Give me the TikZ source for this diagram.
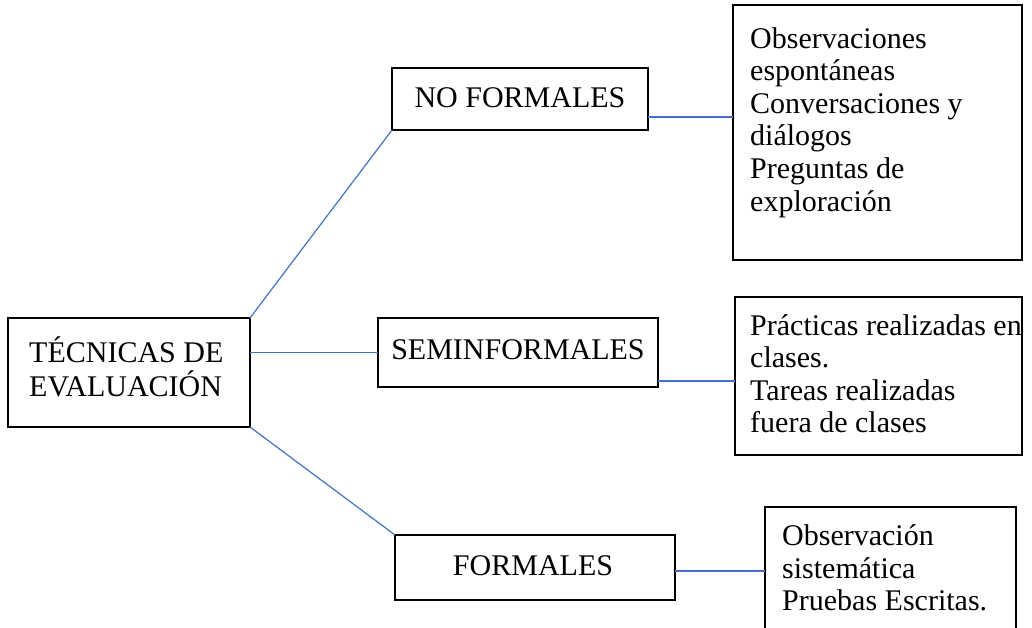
\documentclass[tikz,border=0pt]{standalone}
\usepackage{fontspec}
\setmainfont{Liberation Serif}
\definecolor{conn}{HTML}{4472C4}
\begin{document}
\begin{tikzpicture}[x=1pt,y=-1pt,
  box/.style={draw=black,line width=1.6pt,rectangle,inner sep=0pt,outer sep=0pt},
  txt/.style={anchor=base west,inner sep=0pt,font=\fontsize{30}{33}\selectfont},
  ctxt/.style={anchor=base,inner sep=0pt,font=\fontsize{30}{33}\selectfont},
  conn/.style={draw=conn,line width=1.2pt}]
\clip (0,0) rectangle (1032,628);
\fill[white] (0,0) rectangle (1032,628);
% boxes
\node[box,minimum width=242pt,minimum height=109pt] (main) at (129,372.5) {};
\node[box,minimum width=256pt,minimum height=62pt] (nf) at (520,99) {};
\node[box,minimum width=280pt,minimum height=69pt] (semi) at (518,352.5) {};
\node[box,minimum width=280pt,minimum height=65pt] (form) at (535,567.5) {};
\node[box,minimum width=289pt,minimum height=255pt] (b1) at (877.5,132.5) {};
\node[box,minimum width=287pt,minimum height=158pt] (b2) at (878.5,376) {};
\node[box,minimum width=251pt,minimum height=153pt] (b3) at (890.5,583.5) {};
% texts
\node[txt] (m1) at (29,362) {TÉCNICAS DE};
\node[txt] (m2) at (29,396) {EVALUACIÓN};
\node[ctxt] (nft) at (520,108) {NO FORMALES};
\node[ctxt] (semit) at (518,359) {SEMINFORMALES};
\node[ctxt] (formt) at (533,575) {FORMALES};
\node[txt] (a1) at (750,49) {Observaciones};
\node[txt] (a2) at (750,81) {espontáneas};
\node[txt] (a3) at (750,114) {Conversaciones y};
\node[txt] (a4) at (750,146) {diálogos};
\node[txt] (a5) at (750,179) {Preguntas de};
\node[txt] (a6) at (750,212) {exploración};
\node[txt] (c1) at (750,335) {Prácticas realizadas en};
\node[txt] (c2) at (750,367) {clases.};
\node[txt] (c3) at (750,400) {Tareas realizadas};
\node[txt] (c4) at (750,432) {fuera de clases};
\node[txt] (d1) at (782,545) {Observación};
\node[txt] (d2) at (782,578) {sistemática};
\node[txt] (d3) at (782,610) {Pruebas Escritas.};
% connectors
\draw[conn] (main.north east) -- (nf.south west);
\draw[conn] (main.east |- semi.west) -- (semi.west);
\draw[conn] (main.south east) -- (form.north west);
\coordinate (nfo) at ([yshift=-18pt]nf.east);
\draw[conn] (nfo) -- (nfo -| b1.west);
\coordinate (semio) at ([yshift=-28.5pt]semi.east);
\draw[conn] (semio) -- (semio -| b2.west);
\coordinate (formo) at ([yshift=-3.5pt]form.east);
\draw[conn] (formo) -- (formo -| b3.west);
\end{tikzpicture}
\end{document}
